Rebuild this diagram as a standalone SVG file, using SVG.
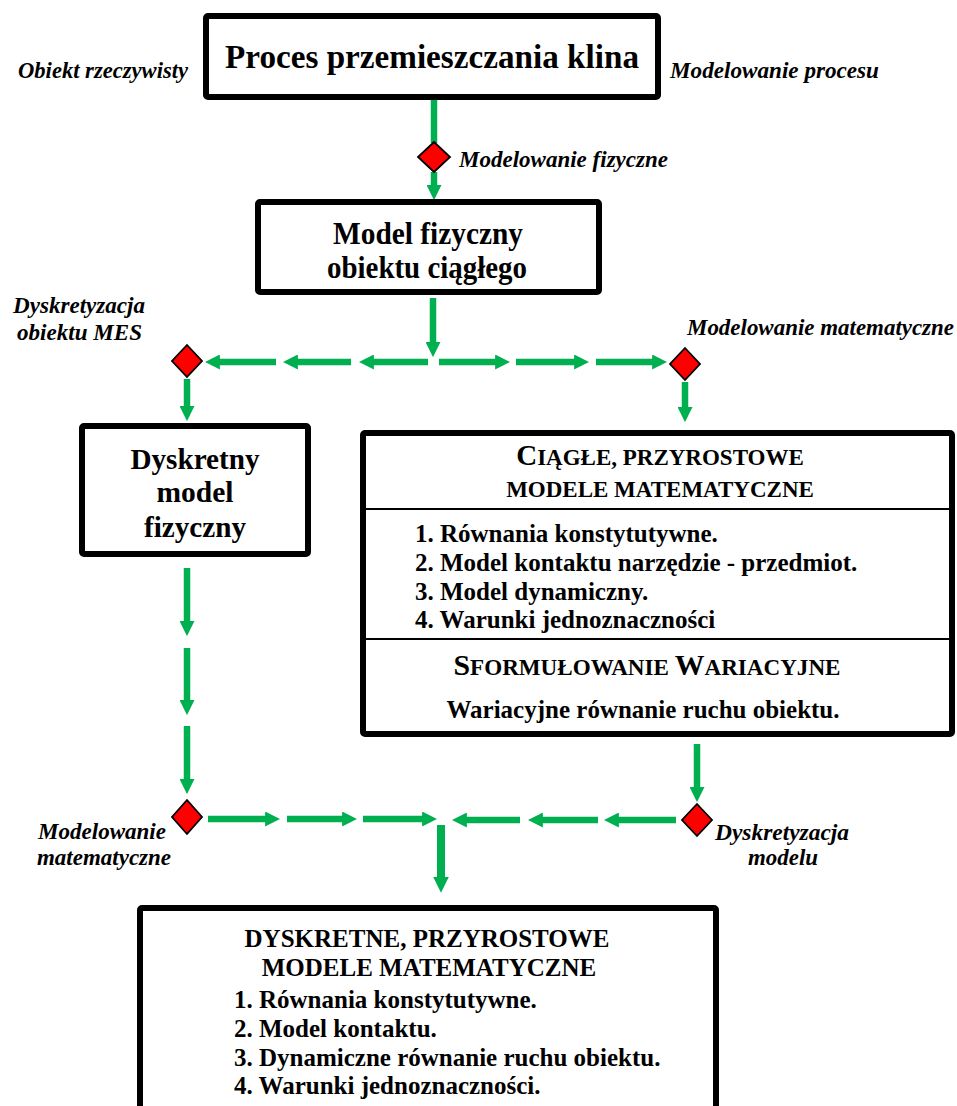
<svg xmlns="http://www.w3.org/2000/svg" width="957" height="1106" viewBox="0 0 957 1106">
  <style>
    .box { fill: #ffffff; stroke: #000000; stroke-width: 6; }
    .rule { stroke: #000000; stroke-width: 2; }
    .title { font-family: "Liberation Serif", "Times New Roman", serif; font-weight: bold; fill: #000000; }
    .lbl { font-family: "Liberation Serif", "Times New Roman", serif; font-weight: bold; font-style: italic; font-size: 23px; fill: #000000; }
    .flow { stroke: #00B050; stroke-width: 6.5; fill: none; }
    .flow-h { stroke: #00B050; stroke-width: 6.5; fill: none; marker-end: url(#head); }
    .dia { fill: #FF0000; stroke: #000000; stroke-width: 1.8; stroke-linejoin: miter; }
  </style>
  <defs>
    <marker id="head" viewBox="0 0 10 10" refX="4.6" refY="5" markerWidth="15" markerHeight="15" markerUnits="userSpaceOnUse" orient="auto">
      <path d="M0,0 L10,5 L0,10 Z" fill="#00B050"/>
    </marker>
    <marker id="headBig" viewBox="0 0 10 10" refX="4.6" refY="5" markerWidth="16" markerHeight="16" markerUnits="userSpaceOnUse" orient="auto">
      <path d="M0,0 L10,5 L0,10 Z" fill="#00B050"/>
    </marker>
  </defs>

  <!-- connectors -->
  <g id="connectors">
    <!-- top box to physical model -->
    <line class="flow" x1="434" y1="100" x2="434" y2="143"/>
    <line class="flow-h" x1="434" y1="172" x2="434" y2="192"/>
    <!-- physical model down to the split -->
    <line class="flow-h" x1="433" y1="298" x2="433" y2="349"/>
    <!-- split to the left -->
    <line class="flow-h" x1="428" y1="362" x2="367" y2="362"/>
    <line class="flow-h" x1="351" y1="362" x2="291" y2="362"/>
    <line class="flow-h" x1="276" y1="362" x2="213" y2="362"/>
    <!-- split to the right -->
    <line class="flow-h" x1="439" y1="362" x2="502" y2="362"/>
    <line class="flow-h" x1="516" y1="362" x2="581" y2="362"/>
    <line class="flow-h" x1="596" y1="362" x2="659" y2="362"/>
    <!-- decisions down into boxes -->
    <line class="flow-h" x1="187" y1="379" x2="187" y2="413"/>
    <line class="flow-h" x1="685" y1="382" x2="685" y2="414"/>
    <!-- discrete physical model downwards -->
    <line class="flow-h" x1="187" y1="568" x2="187" y2="628"/>
    <line class="flow-h" x1="187" y1="648" x2="187" y2="707"/>
    <line class="flow-h" x1="187" y1="726" x2="187" y2="786"/>
    <!-- continuous models downwards -->
    <line class="flow-h" x1="697" y1="744" x2="697" y2="794"/>
    <!-- bottom merge from the left -->
    <line class="flow-h" x1="208" y1="819" x2="272" y2="819"/>
    <line class="flow-h" x1="287" y1="819" x2="349" y2="819"/>
    <line class="flow-h" x1="363" y1="819" x2="429" y2="819"/>
    <!-- bottom merge from the right -->
    <line class="flow-h" x1="676" y1="820" x2="612" y2="820"/>
    <line class="flow-h" x1="598" y1="820" x2="536" y2="820"/>
    <line class="flow-h" x1="520" y1="820" x2="460" y2="820"/>
    <!-- into the discrete mathematical models -->
    <line x1="441" y1="825" x2="441" y2="884" stroke="#00B050" stroke-width="8" marker-end="url(#headBig)"/>
  </g>

  <!-- decision points -->
  <g id="dec-physical"><polygon class="dia" points="434,142 450,157 434,172 418,157"/></g>
  <g id="dec-fem"><polygon class="dia" points="187,345 202,361 187,377 172,361"/></g>
  <g id="dec-math-top"><polygon class="dia" points="685,348 700,364 685,380 670,364"/></g>
  <g id="dec-math-bottom"><polygon class="dia" points="187,800 202,817 187,834 172,817"/></g>
  <g id="dec-discretize"><polygon class="dia" points="697,804 712,820 697,836 682,820"/></g>

  <!-- side labels -->
  <g id="labels">
    <text class="lbl" x="18" y="78" textLength="170" lengthAdjust="spacingAndGlyphs">Obiekt rzeczywisty</text>
    <text class="lbl" x="670" y="78" textLength="209" lengthAdjust="spacingAndGlyphs">Modelowanie procesu</text>
    <text class="lbl" x="459" y="167" textLength="209" lengthAdjust="spacingAndGlyphs">Modelowanie fizyczne</text>
    <text class="lbl" x="13" y="313" textLength="132" lengthAdjust="spacingAndGlyphs">Dyskretyzacja</text>
    <text class="lbl" x="17" y="340" textLength="125" lengthAdjust="spacingAndGlyphs">obiektu MES</text>
    <text class="lbl" x="687" y="335" textLength="267" lengthAdjust="spacingAndGlyphs">Modelowanie matematyczne</text>
    <text class="lbl" x="38" y="839" textLength="128" lengthAdjust="spacingAndGlyphs">Modelowanie</text>
    <text class="lbl" x="37" y="865" textLength="134" lengthAdjust="spacingAndGlyphs">matematyczne</text>
    <text class="lbl" x="715" y="840" textLength="134" lengthAdjust="spacingAndGlyphs">Dyskretyzacja</text>
    <text class="lbl" x="748" y="865" textLength="70" lengthAdjust="spacingAndGlyphs">modelu</text>
  </g>

  <!-- real process -->
  <g id="node-process">
    <rect class="box" x="206" y="16" width="452" height="81" rx="2"/>
    <text class="title" x="432" y="68" font-size="34" text-anchor="middle" textLength="414" lengthAdjust="spacingAndGlyphs">Proces przemieszczania klina</text>
  </g>

  <!-- continuous physical model -->
  <g id="node-physical">
    <rect class="box" x="258" y="202" width="341" height="90" rx="2"/>
    <text class="title" x="428" y="244" font-size="31" text-anchor="middle" textLength="190" lengthAdjust="spacingAndGlyphs">Model fizyczny</text>
    <text class="title" x="427" y="278" font-size="31" text-anchor="middle" textLength="200" lengthAdjust="spacingAndGlyphs">obiektu ciągłego</text>
  </g>

  <!-- discrete physical model -->
  <g id="node-discrete-physical">
    <rect class="box" x="82" y="426" width="226" height="128" rx="2"/>
    <text class="title" x="195" y="469" font-size="30" text-anchor="middle" textLength="129" lengthAdjust="spacingAndGlyphs">Dyskretny</text>
    <text class="title" x="195" y="502" font-size="30" text-anchor="middle" textLength="77" lengthAdjust="spacingAndGlyphs">model</text>
    <text class="title" x="195" y="537" font-size="30" text-anchor="middle" textLength="102" lengthAdjust="spacingAndGlyphs">fizyczny</text>
  </g>

  <!-- continuous incremental mathematical models -->
  <g id="node-continuous-models">
    <rect class="box" x="363" y="433" width="589" height="301" rx="2"/>
    <line class="rule" x1="363" y1="509" x2="952" y2="509"/>
    <line class="rule" x1="363" y1="639" x2="952" y2="639"/>
    <text class="title" x="660" y="465" font-size="23" text-anchor="middle"><tspan font-size="29">C</tspan>IĄGŁE, PRZYROSTOWE</text>
    <text class="title" x="660" y="497" font-size="23" text-anchor="middle">MODELE MATEMATYCZNE</text>
    <text class="title" x="415" y="542" font-size="25">1. Równania konstytutywne.</text>
    <text class="title" x="415" y="571" font-size="25">2. Model kontaktu narzędzie - przedmiot.</text>
    <text class="title" x="415" y="600" font-size="25">3. Model dynamiczny.</text>
    <text class="title" x="415" y="628" font-size="25">4. Warunki jednoznaczności</text>
    <text class="title" x="647" y="675" font-size="22.5" text-anchor="middle" textLength="387" lengthAdjust="spacingAndGlyphs"><tspan font-size="29">S</tspan>FORMUŁOWANIE <tspan font-size="29">W</tspan>ARIACYJNE</text>
    <text class="title" x="643" y="718" font-size="25" text-anchor="middle">Wariacyjne równanie ruchu obiektu.</text>
  </g>

  <!-- discrete incremental mathematical models -->
  <g id="node-discrete-models">
    <rect class="box" x="140" y="908" width="576" height="230" rx="2"/>
    <text class="title" x="427" y="947" font-size="25" text-anchor="middle">DYSKRETNE, PRZYROSTOWE</text>
    <text class="title" x="429" y="976" font-size="25" text-anchor="middle">MODELE MATEMATYCZNE</text>
    <text class="title" x="234" y="1008" font-size="25">1. Równania konstytutywne.</text>
    <text class="title" x="234" y="1037" font-size="25">2. Model kontaktu.</text>
    <text class="title" x="234" y="1066" font-size="25">3. Dynamiczne równanie ruchu obiektu.</text>
    <text class="title" x="234" y="1094" font-size="25">4. Warunki jednoznaczności.</text>
  </g>
</svg>
